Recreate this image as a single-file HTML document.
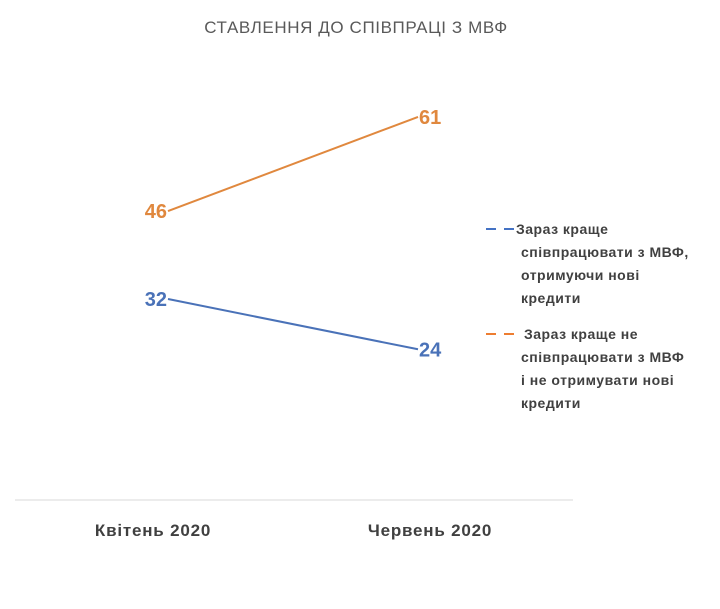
<!DOCTYPE html>
<html><head><meta charset="utf-8"><style>
body{margin:0;background:#fff;width:720px;height:604px;overflow:hidden;font-family:"Liberation Sans","DejaVu Sans",sans-serif}
</style></head><body>
<svg width="720" height="604">
<text x="356" y="33" text-anchor="middle" font-size="17" letter-spacing="0.6" fill="#595959">СТАВЛЕННЯ ДО СПІВПРАЦІ З МВФ</text>
<line x1="15" y1="500" x2="573" y2="500" stroke="#d9d9d9"/>
<text x="153" y="536" text-anchor="middle" font-size="17" letter-spacing="0.8" font-weight="bold" fill="#404040">Квітень 2020</text>
<text x="430" y="536" text-anchor="middle" font-size="17" letter-spacing="0.8" font-weight="bold" fill="#404040">Червень 2020</text>
<g id="series"></g>
<g font-size="14" letter-spacing="0.5" font-weight="bold" fill="#404040">
<line x1="486" y1="229" x2="496" y2="229" stroke="#4472c4" stroke-width="2"/><line x1="504" y1="229" x2="514" y2="229" stroke="#4472c4" stroke-width="2"/>
<text x="516" y="234"><tspan x="516">Зараз краще</tspan><tspan x="521" dy="23">співпрацювати з МВФ,</tspan><tspan x="521" dy="23">отримуючи нові</tspan><tspan x="521" dy="23">кредити</tspan></text>
<line x1="486" y1="334" x2="496" y2="334" stroke="#ed7d31" stroke-width="2"/><line x1="504" y1="334" x2="514" y2="334" stroke="#ed7d31" stroke-width="2"/>
<text x="521" y="339"><tspan x="524">Зараз краще не</tspan><tspan x="521" dy="23">співпрацювати з МВФ</tspan><tspan x="521" dy="23">і не отримувати нові</tspan><tspan x="521" dy="23">кредити</tspan></text>
</g>
</svg>
<script>
const categories=["Квітень 2020","Червень 2020"];
const cooperate=[32,24];
const notCooperate=[46,61];
const xPos=i=>168+i*250;
const yPos=v=>500-v*6.28;
const g=document.getElementById('series');
const ns="http://www.w3.org/2000/svg";
function draw(vals,color,name){
  const l=document.createElementNS(ns,'line');
  l.setAttribute('x1',xPos(0));l.setAttribute('y1',yPos(vals[0]));
  l.setAttribute('x2',xPos(1));l.setAttribute('y2',yPos(vals[1]));
  l.setAttribute('stroke',color);l.setAttribute('stroke-width','2');
  
  
  g.appendChild(l);
  vals.forEach((v,i)=>{
    const t=document.createElementNS(ns,'text');
    t.setAttribute('x',i==0?xPos(i)-1:xPos(i)+1);
    t.setAttribute('y',yPos(v)+7);
    t.setAttribute('text-anchor',i==0?'end':'start');
    t.setAttribute('font-size','20');t.setAttribute('font-weight','bold');t.setAttribute('fill',color);
    t.textContent=v;
    
    
    g.appendChild(t);
  });
}
draw(notCooperate,'#e0883e','not-cooperate');
draw(cooperate,'#4a72b8','cooperate');
</script>
</body></html>
